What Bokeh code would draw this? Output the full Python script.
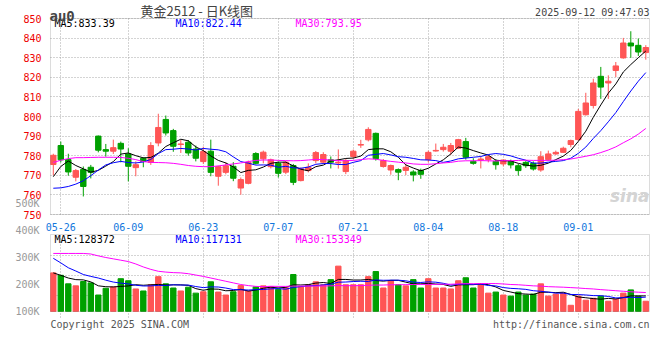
from bokeh.plotting import figure
from bokeh.models import (Range1d, FixedTicker, Label, PrintfTickFormatter, LinearAxis,
                          Grid, BoxAnnotation)
from bokeh.embed import file_html
from bokeh.resources import INLINE

# ---------------- data ----------------
dates = ["05-23", "05-26", "05-27", "05-28", "05-29", "05-30",
         "06-03", "06-04", "06-05", "06-06", "06-09", "06-10", "06-11", "06-12", "06-13",
         "06-16", "06-17", "06-18", "06-19", "06-20", "06-23", "06-24", "06-25", "06-26",
         "06-27", "06-30",
         "07-01", "07-02", "07-03", "07-04", "07-07", "07-08", "07-09", "07-10", "07-11",
         "07-14", "07-15", "07-16", "07-17", "07-18", "07-21", "07-22", "07-23", "07-24",
         "07-25", "07-28", "07-29", "07-30", "07-31",
         "08-01", "08-04", "08-05", "08-06", "08-07", "08-08", "08-11", "08-12", "08-13",
         "08-14", "08-15", "08-18", "08-19", "08-20", "08-21", "08-22", "08-25", "08-26",
         "08-27", "08-28", "08-29",
         "09-01", "09-02", "09-03", "09-04", "09-05", "09-08", "09-09", "09-10", "09-11",
         "09-12"]

opens = [775.5, 785.2, 778.0, 769.0, 773.0, 774.1, 790.0, 783.1, 782.3, 786.3,
         780.9, 773.9, 778.7, 776.6, 786.5, 798.5, 792.8, 785.7, 786.9, 783.4,
         777.0, 782.3, 769.5, 771.5, 774.6, 763.5, 765.9, 781.1, 778.4, 774.4,
         776.1, 771.6, 775.0, 767.3, 772.4, 777.5, 776.7, 777.9, 776.3, 771.9,
         779.6, 785.4, 788.1, 791.4, 774.5, 772.7, 772.9, 772.5, 771.7, 772.5,
         778.0, 782.4, 783.1, 782.3, 783.8, 787.2, 777.1, 777.8, 778.0, 777.1,
         775.8, 777.0, 774.9, 776.6, 776.1, 772.7, 778.0, 780.9, 781.7, 785.7,
         788.2, 800.9, 805.6, 820.5, 817.1, 823.5, 829.9, 837.5, 836.3, 832.6]
highs = [781.0, 787.2, 781.0, 773.2, 774.5, 775.3, 790.3, 786.0, 788.2, 787.2,
         783.8, 777.1, 779.2, 786.9, 801.4, 800.5, 793.7, 788.0, 788.0, 785.2,
         784.6, 788.2, 774.9, 776.6, 776.7, 768.9, 777.5, 781.8, 782.6, 778.5,
         777.0, 777.3, 775.8, 774.0, 776.1, 782.4, 781.8, 779.6, 783.2, 778.3,
         783.1, 788.1, 794.5, 791.8, 778.3, 775.5, 773.5, 775.8, 772.6, 773.4,
         782.6, 786.2, 786.0, 786.5, 788.6, 789.1, 778.7, 779.5, 780.0, 778.3,
         778.0, 778.0, 775.8, 777.2, 777.1, 782.3, 782.6, 782.6, 784.6, 788.2,
         803.9, 812.1, 819.3, 825.3, 821.0, 827.8, 840.1, 843.5, 839.8, 836.4]
lows = [770.0, 776.6, 769.8, 766.9, 759.2, 768.4, 781.7, 779.5, 780.9, 776.6,
        766.9, 769.5, 774.1, 775.3, 784.8, 790.3, 782.0, 781.4, 780.0, 777.1,
        775.8, 769.5, 764.7, 770.5, 767.0, 760.1, 765.4, 775.5, 776.1, 773.5,
        768.9, 770.6, 765.0, 766.9, 771.5, 776.1, 775.8, 773.5, 773.4, 770.6,
        778.4, 784.0, 787.3, 777.5, 773.9, 770.3, 767.5, 770.1, 766.9, 768.2,
        776.6, 782.1, 782.1, 780.4, 783.4, 778.0, 775.4, 773.5, 776.6, 772.9,
        774.6, 773.5, 769.8, 773.8, 772.4, 771.8, 777.4, 780.4, 781.4, 784.3,
        787.7, 800.5, 804.1, 809.0, 809.0, 820.1, 829.5, 829.9, 830.9, 829.0]
closes = [780.2, 777.9, 771.7, 772.4, 764.3, 771.5, 782.8, 782.3, 784.1, 783.4,
          774.6, 775.4, 777.1, 785.2, 794.4, 791.6, 784.8, 786.0, 781.4, 778.7,
          782.1, 771.5, 774.4, 774.9, 768.5, 767.8, 776.7, 776.1, 781.8, 777.9,
          771.0, 776.7, 766.4, 773.3, 774.1, 781.6, 780.6, 776.7, 776.7, 777.5,
          782.3, 785.7, 793.4, 778.5, 777.5, 775.0, 771.6, 774.1, 770.2, 770.5,
          781.7, 782.7, 784.3, 785.2, 788.2, 779.2, 776.1, 778.3, 779.5, 775.4,
          777.8, 775.3, 772.4, 774.9, 773.2, 779.5, 780.9, 781.7, 783.8, 787.7,
          802.6, 806.9, 817.1, 815.0, 818.0, 825.8, 837.5, 836.0, 832.9, 835.2]

ma5 = [769.3, 774.5, 777.3, 775.0, 773.3, 771.6, 772.5, 774.7, 777.0, 780.8,
       781.4, 780.0, 778.9, 779.1, 781.3, 784.7, 786.6, 788.4, 787.6, 784.5,
       782.6, 779.9, 777.6, 776.3, 774.3, 771.4, 772.5, 772.8, 774.2, 776.1,
       776.7, 776.7, 774.8, 773.1, 772.3, 774.4, 775.2, 777.3, 777.9, 778.6,
       778.8, 779.8, 783.1, 783.5, 783.5, 782.0, 779.2, 775.3, 773.7, 772.3,
       773.6, 775.8, 777.9, 780.9, 784.4, 783.9, 782.6, 781.4, 780.3, 777.7,
       777.4, 777.3, 776.1, 775.2, 774.7, 775.1, 776.2, 778.0, 779.8, 782.7,
       787.3, 792.5, 799.6, 805.9, 811.9, 816.6, 822.7, 826.5, 830.0, 833.4]
ma10 = [763.4, 763.6, 764.3, 765.5, 767.2, 769.8, 772.7, 775.3, 776.4, 777.1,
        776.5, 776.3, 776.8, 778.1, 781.1, 783.1, 783.3, 783.7, 783.4, 782.9,
        783.7, 783.3, 783.0, 782.0, 779.4, 777.0, 776.2, 775.2, 775.3, 775.2,
        774.1, 774.6, 773.8, 773.6, 774.2, 775.6, 776.0, 776.0, 775.5, 775.5,
        776.6, 777.5, 780.2, 780.7, 781.1, 780.4, 779.5, 779.2, 778.6, 777.9,
        777.8, 777.5, 776.6, 777.3, 778.4, 778.8, 779.2, 779.6, 780.6, 781.1,
        780.7, 779.9, 778.7, 777.7, 776.2, 776.2, 776.7, 777.1, 777.5, 778.7,
        781.2, 784.4, 788.8, 792.8, 797.3, 802.0, 807.6, 813.0, 818.0, 822.4]
ma30 = [776.5, 777.7, 778.5, 779.0, 779.0, 779.1, 779.2, 779.2, 779.2, 779.1,
        778.7, 778.0, 777.0, 776.6, 776.5, 776.4, 776.1, 775.6, 775.0, 774.6,
        774.4, 774.4, 774.8, 775.3, 775.8, 776.3, 777.0, 777.6, 777.8, 777.8,
        777.6, 777.5, 777.4, 777.5, 777.8, 778.1, 778.0, 777.8, 777.5, 777.4,
        777.6, 778.0, 778.4, 778.2, 777.6, 777.1, 776.7, 776.3, 775.8, 775.6,
        775.6, 775.9, 776.3, 776.6, 777.2, 777.4, 777.4, 777.5, 777.4, 777.3,
        777.5, 777.4, 777.6, 777.7, 777.6, 777.6, 777.6, 777.7, 778.0, 778.3,
        779.0, 779.7, 780.5, 781.6, 782.9, 784.5, 786.6, 788.6, 791.0, 793.9]

# volume in thousands, as read on the chart's volume axis
volume_k = [243, 234, 202.5, 195, 211, 206, 161, 186, 191, 221.5,
            214, 183.5, 176, 199, 229, 202.5, 187, 176, 190, 168,
            173, 210, 172, 161, 173, 196, 176, 191, 195, 192,
            182, 188, 237, 192, 199, 210, 199, 218, 268, 199,
            199, 199, 229, 248, 187, 214, 199, 195, 218, 187,
            221.5, 187, 187, 183.5, 214, 225, 187, 202.5, 168, 172,
            161, 157, 172, 161, 164.5, 202.5, 157, 164.5, 168, 123,
            157, 142, 149, 157, 138, 146, 168, 180, 157, 138]
vol_ma5 = [243, 234, 224, 218, 217.1, 209.7, 195.1, 191.8, 191, 193.1,
           194.7, 199.2, 197.2, 198.8, 200.3, 198, 198.7, 198.7, 196.9, 184.7,
           178.8, 183.4, 182.6, 176.8, 177.8, 182.4, 175.6, 179.4, 186.2, 190,
           187.2, 189.6, 198.8, 198.2, 199.6, 205.2, 207.4, 203.6, 218.8, 218.8,
           216.6, 216.6, 218.8, 214.8, 212.4, 215.4, 215.4, 208.6, 202.6, 202.6,
           204.1, 201.7, 200.1, 193.2, 198.6, 199.3, 199.3, 202.4, 199.3, 190.9,
           178.1, 172.1, 166, 164.6, 163.1, 171.4, 171.4, 169.9, 171.3, 163,
           153.9, 150.9, 147.8, 145.6, 148.6, 146.4, 151.6, 157.8, 157.8, 157.8]
vol_ma10 = [297, 280, 262, 250, 237, 230, 224, 216, 209, 205.1,
            202.2, 197.2, 194.5, 194.9, 196.7, 196.4, 199, 198, 197.9, 192.5,
            188.4, 191.1, 190.7, 186.9, 181.3, 180.6, 179.5, 181, 181.5, 183.9,
            184.8, 182.6, 189.1, 192.2, 194.8, 196.2, 198.5, 201.2, 208.5, 209.2,
            210.9, 212, 211.2, 216.8, 215.6, 216, 216, 213.7, 208.7, 207.5,
            209.8, 208.6, 204.4, 197.9, 200.6, 201.7, 200.5, 201.3, 196.3, 194.8,
            188.7, 185.7, 184.2, 182, 177, 174.8, 171.8, 168, 168, 163.1,
            162.7, 161.2, 158.9, 158.5, 155.8, 150.2, 151.3, 152.8, 151.7, 153.2]
vol_ma30 = [315, 315, 315, 315, 315, 313, 306, 300, 295, 290,
            285, 276, 265, 256, 249, 246, 244, 243, 240, 235,
            230, 224, 218, 212, 206, 200, 196, 193, 192, 193.5,
            193, 193, 194, 194, 194, 194.5, 194.5, 195, 196, 195.5,
            195.5, 196, 197, 198, 198, 199, 199, 199.5, 200, 200,
            200.5, 200.5, 201, 201, 202, 203, 203, 203.5, 203.5, 203.5,
            202, 200, 199, 197, 195, 194, 192, 191, 190, 188.5,
            187, 185, 183.5, 181, 179, 177, 175, 173, 171.5, 170.3]

tick_dates = ["05-26", "06-09", "06-23", "07-07", "07-21", "08-04", "08-18", "09-01"]
price_ticks = [750, 760, 770, 780, 790, 800, 810, 820, 830, 840, 850]
vol_ticks = [100, 200, 300, 400, 500]

title_text = "黄金2512 - 日K线图"
symbol_text = "au0"
timestamp_text = "2025-09-12 09:47:03"
price_ma_labels = ["MA5:833.39", "MA10:822.44", "MA30:793.95"]
vol_ma_labels = ["MA5:128372", "MA10:117131", "MA30:153349"]
footer_left = "Copyright 2025 SINA.COM"
footer_right = "http://finance.sina.com.cn"
watermark = "sina"

# ---------------- layout constants (pixels) ----------------
W, H = 652, 336
CANDLE0_PX, STEP_PX = 52.8, 7.5          # centre of first candle, candle pitch
PANEL_L_PX, PANEL_R_PX = 50, 649         # panel borders
PRICE_TOP_PX, PRICE_BOT_PX = 18, 214     # 850 / 750
VOL_TOP_PX, VOL_BASE_PX, VOL_500_PX = 234, 311, 203
VOL_GRID_PX = [255, 275, 295]
VOL_VGRID_BOTTOM_PX = 317

RED = "#ff5555"
GREEN = "#00a000"
MA_COLORS = ["#000000", "#0000ff", "#ff00ff"]
GRID = "#a8a8a8"
BORDER = "#8c8c8c"
MONO = "DejaVu Sans Mono"

price_ppu = (PRICE_BOT_PX - PRICE_TOP_PX) / (price_ticks[-1] - price_ticks[0])
vol_ppu = (VOL_BASE_PX - VOL_500_PX) / (vol_ticks[-1] - vol_ticks[0])


def x_at(px):
    return (px - CANDLE0_PX) / STEP_PX


def price_at(py):
    return price_ticks[0] + (PRICE_BOT_PX - py) / price_ppu


def vol_at(py):
    return vol_ticks[0] + (VOL_BASE_PX - py) / vol_ppu


def sx(px):          # screen-x of a label (frame covers whole canvas)
    return px


def sy(py):          # screen-y measured from the bottom
    return H - py


x = list(range(len(dates)))
colors = [RED if c >= o else GREEN for o, c in zip(opens, closes)]
body_top = [max(o, c) for o, c in zip(opens, closes)]
body_bot = [min(o, c) for o, c in zip(opens, closes)]
tick_idx = [dates.index(d) for d in tick_dates]
box_l, box_r = x_at(PANEL_L_PX), x_at(PANEL_R_PX)

p = figure(width=W, height=H,
           x_range=Range1d(x_at(0), x_at(W)),
           y_range=Range1d(price_at(H), price_at(0)),
           output_backend="svg", toolbar_location=None,
           min_border_left=0, min_border_right=0, min_border_top=0, min_border_bottom=0)
p.extra_y_ranges = {"vol": Range1d(vol_at(H), vol_at(0))}
p.outline_line_color = None
p.background_fill_color = "white"
p.border_fill_color = "white"

# ---- axes (fixed inside the canvas) ----
xa = p.xaxis[0]
xa.fixed_location = price_ticks[0]
xa.ticker = FixedTicker(ticks=tick_idx)
xa.major_label_overrides = {i: d for i, d in zip(tick_idx, tick_dates)}
xa.major_label_text_color = "#1177dd"
xa.major_label_standoff = 2

ya = p.yaxis[0]
ya.fixed_location = box_l
ya.ticker = FixedTicker(ticks=price_ticks)
ya.major_label_text_color = "#ee0000"
ya.major_label_standoff = 3

va = LinearAxis(y_range_name="vol", ticker=FixedTicker(ticks=vol_ticks),
                formatter=PrintfTickFormatter(format="%dK"), fixed_location=box_l)
va.major_label_text_color = "#999999"
va.major_label_standoff = 5
p.add_layout(va, "left")

for ax in (xa, ya, va):
    ax.axis_line_color = None
    ax.major_tick_line_color = None
    ax.minor_tick_line_color = None
    ax.major_label_text_font = MONO
    ax.major_label_text_font_size = "10px"

# ---- grids ----
for g in (p.xgrid[0], p.ygrid[0]):
    g.grid_line_color = GRID
    g.grid_line_dash = "1 2"
p.xgrid[0].ticker = FixedTicker(ticks=tick_idx)
p.xgrid[0].cross_bounds = (price_ticks[0], price_ticks[-1])
p.ygrid[0].ticker = FixedTicker(ticks=price_ticks)
p.ygrid[0].cross_bounds = (box_l, box_r)

p.add_layout(Grid(dimension=0, ticker=FixedTicker(ticks=tick_idx), y_range_name="vol",
                  cross_bounds=(vol_at(VOL_VGRID_BOTTOM_PX), vol_at(VOL_TOP_PX)),
                  grid_line_color=GRID, grid_line_dash="1 2"))
p.add_layout(Grid(dimension=1, ticker=FixedTicker(ticks=[vol_at(v) for v in VOL_GRID_PX]),
                  y_range_name="vol", cross_bounds=(box_l, box_r),
                  grid_line_color=GRID, grid_line_dash="1 2"))

# ---- panel borders ----
p.add_layout(BoxAnnotation(left=box_l, right=box_r, top=price_ticks[-1], bottom=price_ticks[0],
                           fill_color=None, line_color=BORDER, line_width=1))
p.add_layout(BoxAnnotation(left=box_l, right=box_r, top=vol_at(VOL_TOP_PX),
                           bottom=vol_at(VOL_BASE_PX), y_range_name="vol",
                           fill_color=None, line_color=BORDER, line_width=1))

# ---- price panel ----
p.segment(x0=x, y0=highs, x1=x, y1=lows, line_color=colors, line_width=1)
p.vbar(x=x, width=0.72, top=body_top, bottom=body_bot, fill_color=colors,
       line_color=colors, line_width=1)
for series, col in zip((ma5, ma10, ma30), MA_COLORS):
    p.line(x, series, line_color=col, line_width=1)

# ---- volume panel ----
p.vbar(x=x, width=0.72, top=volume_k, bottom=vol_at(VOL_BASE_PX), fill_color=colors,
       line_color=colors, line_width=1, y_range_name="vol")
for series, col in zip((vol_ma5, vol_ma10, vol_ma30), MA_COLORS):
    p.line(x, series, line_color=col, line_width=1, y_range_name="vol")

# ---- texts ----
def add_label(text, px, py, **kw):
    opts = dict(text_font=MONO, text_font_size="10px", text_baseline="middle")
    opts.update(kw)
    p.add_layout(Label(x=sx(px), y=sy(py), x_units="screen", y_units="screen",
                       text=text, **opts))


for txt, col, px in zip(price_ma_labels, MA_COLORS, (54, 175, 295)):
    add_label(txt, px, 23, text_color=col)
for txt, col, px in zip(vol_ma_labels, MA_COLORS, (54, 175, 295)):
    add_label(txt, px, 238.5, text_color=col)

add_label(symbol_text, 49, 15.5, text_font_style="bold", text_font_size="14px",
          text_baseline="alphabetic")
add_label(title_text, 140, 10, text_font="Noto Sans CJK SC", text_font_size="13px")
add_label(timestamp_text, 649, 11.7, text_align="right")
add_label(footer_left, 50, 323.5, text_color="#555555")
add_label(footer_right, 649, 323.5, text_color="#555555", text_align="right")
add_label(watermark, 649, 205, text_font="DejaVu Sans", text_font_style="bold italic",
          text_font_size="17px", text_color="#d4d4d4", text_align="right",
          text_baseline="bottom")

open("out.html", "w").write(file_html(p, INLINE))
